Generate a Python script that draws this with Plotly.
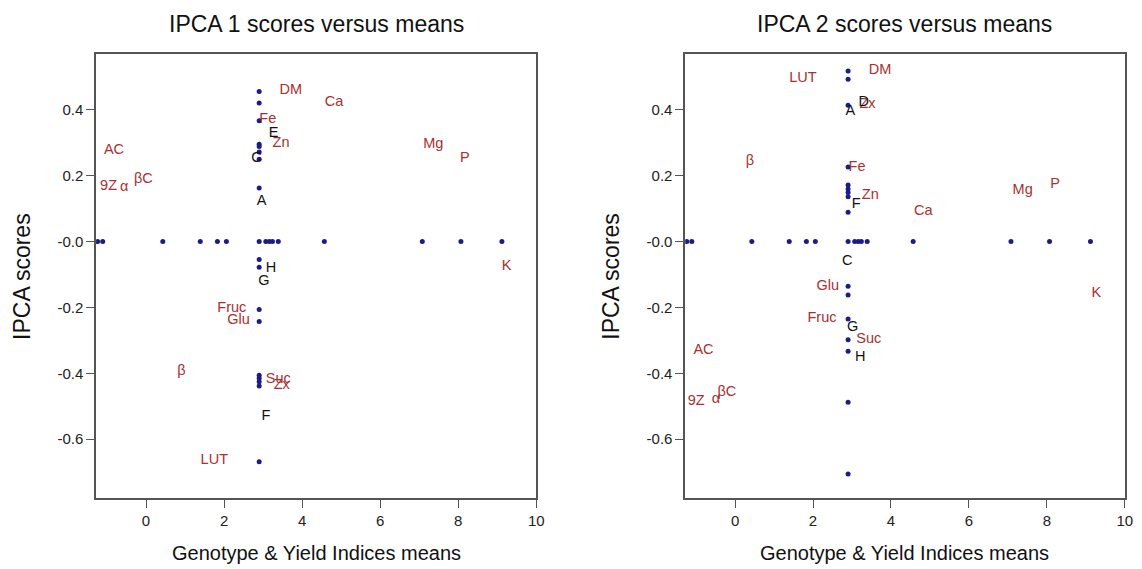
import plotly.graph_objects as go

# ---- data ----
grand_mean = 2.9
means = [-1.24, -1.11, 0.43, 1.39, 1.83, 2.06, 2.90, 3.07, 3.16, 3.24, 3.39, 4.57, 7.08, 8.07, 9.12]

ipca1_scores = [0.456, 0.421, 0.367, 0.296, 0.289, 0.272, 0.250, 0.163, -0.054, -0.078,
                -0.206, -0.243, -0.406, -0.415, -0.426, -0.439, -0.669]
ipca2_scores = [0.518, 0.493, 0.414, 0.227, 0.172, 0.160, 0.149, 0.136, 0.089,
                -0.136, -0.162, -0.235, -0.298, -0.333, -0.488, -0.706]

# variable (trait) labels: name, x, y
var1_names = ["DM", "Ca", "Fe", "Zn", "AC", "9Z", "α", "βC", "Mg", "P", "K", "Fruc", "Glu", "β", "Suc", "Zx", "LUT"]
var1_x = [3.71, 4.82, 3.12, 3.46, -0.82, -0.96, -0.56, -0.07, 7.36, 8.17, 9.24, 2.20, 2.37, 0.91, 3.39, 3.48, 1.75]
var1_y = [0.459, 0.422, 0.370, 0.299, 0.276, 0.167, 0.165, 0.188, 0.294, 0.253, -0.074, -0.202, -0.238, -0.395, -0.418, -0.436, -0.664]

gen1_names = ["E", "C", "A", "H", "G", "F"]
gen1_x = [3.27, 2.83, 2.96, 3.20, 3.02, 3.07]
gen1_y = [0.329, 0.253, 0.122, -0.081, -0.122, -0.530]

var2_names = ["LUT", "DM", "Zx", "β", "Fe", "Zn", "Ca", "Mg", "P", "Glu", "K", "Fruc", "Suc", "AC", "9Z", "α", "βC"]
var2_x = [1.74, 3.72, 3.40, 0.38, 3.13, 3.47, 4.83, 7.38, 8.21, 2.38, 9.27, 2.23, 3.43, -0.81, -1.00, -0.49, -0.21]
var2_y = [0.495, 0.520, 0.417, 0.245, 0.227, 0.141, 0.093, 0.155, 0.175, -0.136, -0.158, -0.234, -0.296, -0.330, -0.485, -0.478, -0.458]

gen2_names = ["D", "A", "F", "C", "G", "H"]
gen2_x = [3.30, 2.96, 3.11, 2.88, 3.02, 3.21]
gen2_y = [0.422, 0.397, 0.114, -0.061, -0.262, -0.353]

titles = ["IPCA 1 scores versus means", "IPCA 2 scores versus means"]
x_title = "Genotype & Yield Indices means"
y_title = "IPCA scores"
x_ticks = [0, 2, 4, 6, 8, 10]
y_ticks = [0.4, 0.2, 0.0, -0.2, -0.4, -0.6]
y_ticktext = ["0.4", "0.2", "-0.0", "-0.2", "-0.4", "-0.6"]

# ---- styles ----
DOT = "#1b1b8a"
RED = "#a8302f"
FONT = "Liberation Sans, Arial, sans-serif"
TICKFONT = "Liberation Sans Narrow, Liberation Sans, Arial, sans-serif"

fig = go.Figure()

panels = [
    (ipca1_scores, var1_names, var1_x, var1_y, gen1_names, gen1_x, gen1_y, "x", "y"),
    (ipca2_scores, var2_names, var2_x, var2_y, gen2_names, gen2_x, gen2_y, "x2", "y2"),
]

for scores, vn, vx, vy, gn, gx, gy, xa, ya in panels:
    fig.add_trace(go.Scatter(x=means, y=[0] * len(means), mode="markers",
                             marker=dict(color=DOT, size=5), xaxis=xa, yaxis=ya,
                             showlegend=False, hoverinfo="skip"))
    fig.add_trace(go.Scatter(x=[grand_mean] * len(scores), y=scores, mode="markers",
                             marker=dict(color=DOT, size=5), xaxis=xa, yaxis=ya,
                             showlegend=False, hoverinfo="skip"))
    fig.add_trace(go.Scatter(x=vx, y=vy, text=vn, mode="text",
                             textfont=dict(color=RED, size=14.5, family=FONT),
                             xaxis=xa, yaxis=ya, showlegend=False, hoverinfo="skip"))
    fig.add_trace(go.Scatter(x=gx, y=gy, text=gn, mode="text",
                             textfont=dict(color="#111111", size=14.5, family=FONT),
                             xaxis=xa, yaxis=ya, showlegend=False, hoverinfo="skip"))

# page body has an 8px margin; work in reference pixels shifted by it
OFF = 8
W, H = 1142 - OFF, 569 - OFF


def px(X):
    return (X - OFF) / W


def py(Y):
    return (H - (Y - OFF)) / H


dom1 = [px(96.7), px(540)]
dom2 = [px(690), px(1132.7)]
ydom = [py(498), py(54)]

xcommon = dict(range=[-1.28, 10.0], tickvals=x_ticks, ticks="outside", ticklen=8,
               tickcolor="#555555", tickwidth=1.2, showline=True, mirror=True,
               linecolor="#555555", linewidth=1.5, showgrid=False, zeroline=False,
               tickfont=dict(family=TICKFONT, size=15, color="#222222"))
ycommon = dict(range=[-0.779, 0.570], tickvals=y_ticks, ticktext=y_ticktext,
               ticks="outside", ticklen=8, tickcolor="#555555", tickwidth=1.2,
               showline=True, mirror=True, linecolor="#555555", linewidth=1.5,
               showgrid=False, zeroline=False,
               tickfont=dict(family=TICKFONT, size=15, color="#222222"))

fig.update_layout(
    width=W, height=H,
    margin=dict(l=0, r=0, t=0, b=0),
    paper_bgcolor="white", plot_bgcolor="white",
    xaxis=dict(domain=dom1, anchor="y", **xcommon),
    yaxis=dict(domain=ydom, anchor="x", **ycommon),
    xaxis2=dict(domain=dom2, anchor="y2", **xcommon),
    yaxis2=dict(domain=ydom, anchor="x2", **ycommon),
    font=dict(family=FONT),
)

anns = []
for dom, t, yt_x in [(dom1, titles[0], px(22)), (dom2, titles[1], px(615))]:
    cx = (dom[0] + dom[1]) / 2
    anns.append(dict(text=t, x=cx, y=py(24), xref="paper", yref="paper",
                     xanchor="center", yanchor="middle",
                     showarrow=False, font=dict(size=23, color="#111111", family=FONT)))
    anns.append(dict(text=x_title, x=cx, y=py(553), xref="paper", yref="paper",
                     xanchor="center", yanchor="middle",
                     showarrow=False, font=dict(size=20, color="#111111", family=FONT)))
    anns.append(dict(text=y_title, x=yt_x, y=py(276), xref="paper", yref="paper",
                     xanchor="center", yanchor="middle",
                     showarrow=False, textangle=-90,
                     font=dict(size=23, color="#111111", family=FONT)))
fig.update_layout(annotations=anns)

fig.write_html("out.html")
